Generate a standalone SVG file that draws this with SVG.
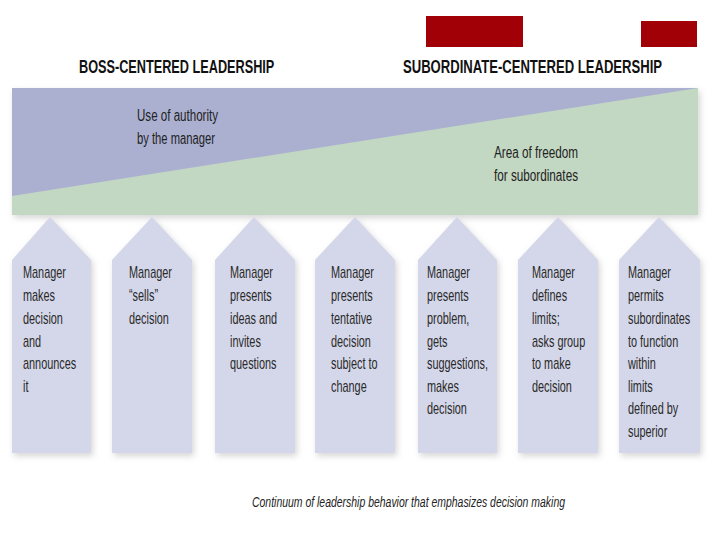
<svg xmlns="http://www.w3.org/2000/svg" width="720" height="540" viewBox="0 0 720 540">
<style>
.hdr{font-family:"Liberation Sans",Arial,sans-serif;font-weight:bold;font-size:18px;fill:#111}
.lbl{font-family:"Liberation Sans",Arial,sans-serif;font-size:16px;fill:#222}
.col{fill:#d4d7e9;filter:url(#sh)}
.ct{font-family:"Liberation Sans",Arial,sans-serif;font-size:17px;fill:#2a2a2a}
.cap{font-family:"Liberation Sans",Arial,sans-serif;font-style:italic;font-size:15px;fill:#222}
</style>
<defs>
<filter id="sh" x="-20%" y="-20%" width="140%" height="140%">
<feDropShadow dx="2" dy="3" stdDeviation="3" flood-color="#888" flood-opacity="0.35"/>
</filter>
</defs>
<rect width="720" height="540" fill="#ffffff"/>
<g id="redmarks">
<rect x="426" y="16" width="97" height="31" fill="#a00006"/>
<rect x="641" y="21" width="56" height="26" fill="#a00006"/>
</g>
<g id="headers">
<g transform="translate(79 73) scale(0.7 1)">
<text class="hdr" x="0" y="0" textLength="279" lengthAdjust="spacingAndGlyphs">BOSS-CENTERED LEADERSHIP</text>
</g>
<g transform="translate(403 73) scale(0.7 1)">
<text class="hdr" x="0" y="0" textLength="370" lengthAdjust="spacingAndGlyphs">SUBORDINATE-CENTERED LEADERSHIP</text>
</g>
</g>
<g id="band">
<rect x="12" y="88" width="686" height="127" fill="#c3d8c2" filter="url(#sh)"/>
<polygon points="12,88 698,88 12,196" fill="#abb0d1"/>
<text class="lbl" x="137" y="121" textLength="81" lengthAdjust="spacingAndGlyphs">Use of authority</text>
<text class="lbl" x="137" y="144" textLength="78" lengthAdjust="spacingAndGlyphs">by the manager</text>
<text class="lbl" x="494" y="158" textLength="84" lengthAdjust="spacingAndGlyphs">Area of freedom</text>
<text class="lbl" x="494" y="181" textLength="84" lengthAdjust="spacingAndGlyphs">for subordinates</text>
</g>
<g id="col1">
<polygon class="col" points="12,260 50,217 91,260 91,453 12,453"/>
<g transform="translate(23 0) scale(0.64 1)">
<text class="ct" x="0" y="278">Manager</text>
<text class="ct" x="0" y="301">makes</text>
<text class="ct" x="0" y="324">decision</text>
<text class="ct" x="0" y="347">and</text>
<text class="ct" x="0" y="369">announces</text>
<text class="ct" x="0" y="392">it</text>
</g>
</g>
<g id="col2">
<polygon class="col" points="112,260 152,217 192,260 192,453 112,453"/>
<g transform="translate(129 0) scale(0.64 1)">
<text class="ct" x="0" y="278">Manager</text>
<text class="ct" x="0" y="301">“sells”</text>
<text class="ct" x="0" y="324">decision</text>
</g>
</g>
<g id="col3">
<polygon class="col" points="215,260 254,217 295,260 295,453 215,453"/>
<g transform="translate(230 0) scale(0.64 1)">
<text class="ct" x="0" y="278">Manager</text>
<text class="ct" x="0" y="301">presents</text>
<text class="ct" x="0" y="324">ideas and</text>
<text class="ct" x="0" y="347">invites</text>
<text class="ct" x="0" y="369">questions</text>
</g>
</g>
<g id="col4">
<polygon class="col" points="315,260 355,217 395,260 395,453 315,453"/>
<g transform="translate(331 0) scale(0.64 1)">
<text class="ct" x="0" y="278">Manager</text>
<text class="ct" x="0" y="301">presents</text>
<text class="ct" x="0" y="324">tentative</text>
<text class="ct" x="0" y="347">decision</text>
<text class="ct" x="0" y="369">subject to</text>
<text class="ct" x="0" y="392">change</text>
</g>
</g>
<g id="col5">
<polygon class="col" points="418,260 457,217 497,260 497,453 418,453"/>
<g transform="translate(427 0) scale(0.64 1)">
<text class="ct" x="0" y="278">Manager</text>
<text class="ct" x="0" y="301">presents</text>
<text class="ct" x="0" y="324">problem,</text>
<text class="ct" x="0" y="347">gets</text>
<text class="ct" x="0" y="369">suggestions,</text>
<text class="ct" x="0" y="392">makes</text>
<text class="ct" x="0" y="414">decision</text>
</g>
</g>
<g id="col6">
<polygon class="col" points="518,260 558,217 598,260 598,453 518,453"/>
<g transform="translate(532 0) scale(0.64 1)">
<text class="ct" x="0" y="278">Manager</text>
<text class="ct" x="0" y="301">defines</text>
<text class="ct" x="0" y="324">limits;</text>
<text class="ct" x="0" y="347">asks group</text>
<text class="ct" x="0" y="369">to make</text>
<text class="ct" x="0" y="392">decision</text>
</g>
</g>
<g id="col7">
<polygon class="col" points="619,260 659,217 700,260 700,453 619,453"/>
<g transform="translate(628 0) scale(0.64 1)">
<text class="ct" x="0" y="278">Manager</text>
<text class="ct" x="0" y="301">permits</text>
<text class="ct" x="0" y="324">subordinates</text>
<text class="ct" x="0" y="347">to function</text>
<text class="ct" x="0" y="369">within</text>
<text class="ct" x="0" y="392">limits</text>
<text class="ct" x="0" y="414">defined by</text>
<text class="ct" x="0" y="437">superior</text>
</g>
</g>
<g id="connectors"></g>
<text class="cap" x="252" y="507" textLength="313" lengthAdjust="spacingAndGlyphs">Continuum of leadership behavior that emphasizes decision making</text>
</svg>
